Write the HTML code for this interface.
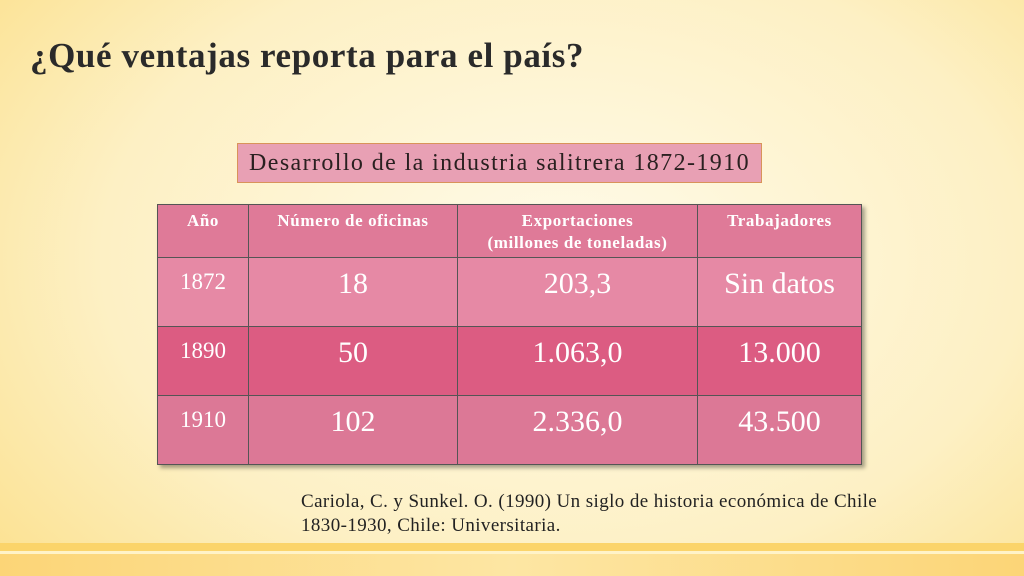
<!DOCTYPE html>
<html><head><meta charset="utf-8"><style>
body{margin:0;width:1024px;height:576px;overflow:hidden;font-family:"Liberation Serif",serif;}
#slide{position:relative;width:1024px;height:576px;background:radial-gradient(ellipse 75% 90% at 55% 45%,#fffbe9 0%,#fdf0c4 60%,#fbdf88 100%);}
.title{position:absolute;left:30px;top:36px;font-size:35px;font-weight:bold;letter-spacing:0.6px;color:#2a2a2a;}
.cap{position:absolute;left:237px;top:143px;width:523px;height:38px;background:#e8a0b4;border:1px solid #d9935a;font-size:24px;letter-spacing:1.4px;color:#2a2020;text-align:center;line-height:38px;white-space:nowrap;}
table{position:absolute;left:157px;top:204px;border-collapse:collapse;box-shadow:3px 3px 4px rgba(0,0,0,.35);color:#fff;}
td,th{border:1px solid #555;vertical-align:top;text-align:center;padding:0;}
th{font-weight:bold;font-size:17px;letter-spacing:0.6px;height:53px;padding-top:5px;box-sizing:border-box;background:#df7a98;line-height:22px;}
td{height:69px;font-size:30px;padding-top:9px;box-sizing:border-box;}
td.y{font-size:23px;padding-top:11px;}
tr.r1 td{background:#e689a5;}tr.r2 td{background:#dc5c82;}tr.r3 td{background:#dc7896;}
.ref{position:absolute;left:301px;top:490px;font-size:19px;letter-spacing:0.4px;color:#222;line-height:24px;white-space:nowrap;}
.b1{position:absolute;left:0;top:543px;width:1024px;height:8px;background:#fbd46a;}
.b2{position:absolute;left:0;top:551px;width:1024px;height:3px;background:#fff3c8;}
.b3{position:absolute;left:0;top:554px;width:1024px;height:22px;background:linear-gradient(90deg,#fcd577,#fde6a3 50%,#fcd577);}
</style></head><body>
<div id="slide">
<div class="title">¿Qué ventajas reporta para el país?</div>
<div class="cap">Desarrollo de la industria salitrera 1872-1910</div>
<table>
<tr><th style="width:91px">Año</th><th style="width:209px">Número de oficinas</th><th style="width:240px">Exportaciones<br>(millones de toneladas)</th><th style="width:164px">Trabajadores</th></tr>
<tr class="r1"><td class="y">1872</td><td>18</td><td>203,3</td><td>Sin datos</td></tr>
<tr class="r2"><td class="y">1890</td><td>50</td><td>1.063,0</td><td>13.000</td></tr>
<tr class="r3"><td class="y">1910</td><td>102</td><td>2.336,0</td><td>43.500</td></tr>
</table>
<div class="ref">Cariola, C. y Sunkel. O. (1990) Un siglo de historia económica de Chile<br>1830-1930, Chile: Universitaria.</div>
<div class="b1"></div>
<div class="b2"></div>
<div class="b3"></div>
</div>
</body></html>
